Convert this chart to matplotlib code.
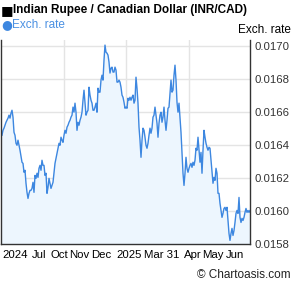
import matplotlib.pyplot as plt

plt.rcParams["font.family"] = ["Liberation Sans", "DejaVu Sans"]

# daily INR/CAD exchange rate, Jun 2024 - Jun 2025
rate = [
    0.016458, 0.016488, 0.016501, 0.016519, 0.016537, 0.016549, 0.016562, 0.016580, 0.016562, 0.016592,
    0.016610, 0.016568, 0.016476, 0.016458, 0.016409, 0.016397, 0.016428, 0.016397, 0.016367, 0.016330,
    0.016294, 0.016287, 0.016233, 0.016245, 0.016166, 0.016111, 0.016074, 0.016105, 0.016123, 0.016123,
    0.016135, 0.016172, 0.016111, 0.016214, 0.016196, 0.016227, 0.016202, 0.016257, 0.016275, 0.016245,
    0.016306, 0.016275, 0.016275, 0.016214, 0.016227, 0.016105, 0.016141, 0.016196, 0.016166, 0.016135,
    0.016153, 0.016172, 0.016227, 0.016287, 0.016318, 0.016348, 0.016379, 0.016409, 0.016397, 0.016446,
    0.016428, 0.016415, 0.016458, 0.016488, 0.016470, 0.016507, 0.016519, 0.016537, 0.016549, 0.016568,
    0.016580, 0.016629, 0.016598, 0.016653, 0.016598, 0.016488, 0.016537, 0.016519, 0.016549, 0.016568,
    0.016598, 0.016671, 0.016732, 0.016653, 0.016580, 0.016598, 0.016610, 0.016750, 0.016702, 0.016671,
    0.016653, 0.016610, 0.016610, 0.016629, 0.016653, 0.016598, 0.016744, 0.016720, 0.016720, 0.016793,
    0.016823, 0.016793, 0.016915, 0.017006, 0.016963, 0.016957, 0.016945, 0.016903, 0.016836, 0.016866,
    0.016872, 0.016842, 0.016842, 0.016872, 0.016854, 0.016781, 0.016781, 0.016793, 0.016781, 0.016750,
    0.016702, 0.016689, 0.016659, 0.016622, 0.016629, 0.016622, 0.016683, 0.016671, 0.016689, 0.016671,
    0.016689, 0.016702, 0.016653, 0.016671, 0.016811, 0.016744, 0.016653, 0.016507, 0.016428, 0.016324,
    0.016428, 0.016501, 0.016488, 0.016446, 0.016397, 0.016379, 0.016409, 0.016458, 0.016501, 0.016470,
    0.016501, 0.016568, 0.016580, 0.016629, 0.016580, 0.016531, 0.016446, 0.016531, 0.016580, 0.016598,
    0.016537, 0.016568, 0.016629, 0.016549, 0.016488, 0.016549, 0.016622, 0.016629, 0.016714, 0.016793,
    0.016720, 0.016732, 0.016823, 0.016884, 0.016793, 0.016659, 0.016598, 0.016653, 0.016568, 0.016476,
    0.016348, 0.016227, 0.016153, 0.016227, 0.016324, 0.016257, 0.016233, 0.016257, 0.016275, 0.016287,
    0.016263, 0.016294, 0.016275, 0.016306, 0.016379, 0.016367, 0.016446, 0.016367, 0.016294, 0.016354,
    0.016227, 0.016367, 0.016488, 0.016446, 0.016409, 0.016385, 0.016367, 0.016385, 0.016379, 0.016306,
    0.016233, 0.016166, 0.016202, 0.016184, 0.016257, 0.016227, 0.016105, 0.016105, 0.016044, 0.016001,
    0.015959, 0.015983, 0.016013, 0.016020, 0.016001, 0.016020, 0.015940, 0.015861, 0.015819, 0.015861,
    0.015892, 0.015849, 0.015879, 0.015928, 0.015983, 0.016001, 0.015983, 0.016080, 0.015959, 0.015928,
    0.015953, 0.015940, 0.015959, 0.015989, 0.016013, 0.015989, 0.016001, 0.015989, 0.016001, 0.015995,
]
days = list(range(len(rate)))

x_labels = ["2024", "Jul", "Oct", "Nov", "Dec", "2025", "Mar 31", "Apr", "May", "Jun"]
x_label_pos = [13, 37.5, 57.5, 77, 99.5, 127, 160, 191, 210.5, 232.5]
grid_days = [62, 124, 187]
y_ticks = [0.0158, 0.0160, 0.0162, 0.0164, 0.0166, 0.0168, 0.0170]

line_color = "#3d87e0"
fill_color = "#edf6fe"

fig = plt.figure(figsize=(2.95, 2.88), dpi=100)
ax = fig.add_axes([1 / 295, 1 - 243.5 / 288, 249 / 295, 203.5 / 288])

ax.fill_between(days, rate, 0.0150, color=fill_color, lw=0)
ax.plot(days, rate, color=line_color, lw=1.0)

ax.set_xlim(-1, 248)
ax.set_ylim(0.0158, 0.017037)

for d in grid_days:
    ax.axvline(d, color="#e4e4e4", lw=1, zorder=0)
for v in y_ticks:
    ax.axhline(v, color="#e4e4e4", lw=1, zorder=0)

ax.set_xticks(x_label_pos)
ax.set_xticklabels(x_labels, fontsize=8.2)
ax.tick_params(axis="x", length=0, pad=5)

ax.yaxis.tick_right()
ax.set_yticks(y_ticks)
ax.set_yticklabels([f"{v:.4f}" for v in y_ticks], fontsize=8.2, color="#333333")
ax.tick_params(axis="y", length=0, pad=3)

for side in ["left", "right", "bottom"]:
    ax.spines[side].set_color("#333333")
    ax.spines[side].set_linewidth(1)
ax.spines["top"].set_visible(False)

fig.text(1 / 295, 1 - 10.5 / 288, "\u25a0", fontsize=9.5, va="center", ha="left",
         family="DejaVu Sans")
fig.text(13 / 295, 1 - 10 / 288, "Indian Rupee / Canadian Dollar (INR/CAD)",
         fontsize=8.5, fontweight="bold", va="center", ha="left")
fig.text(1 / 295, 1 - 25 / 288, "\u25cf", fontsize=9, color="#3d87e0", va="center", ha="left",
         family="DejaVu Sans")
fig.text(12 / 295, 1 - 25 / 288, "Exch. rate", fontsize=8.5, color="#4a90e2", va="center", ha="left")
fig.text(291 / 295, 1 - 30 / 288, "Exch. rate", fontsize=8.5, va="center", ha="right")
fig.text(291 / 295, 1 - 275 / 288, "\u00a9 Chartoasis.com", fontsize=8.5, color="#222222",
         va="center", ha="right")

fig.savefig("out.png", dpi=100)
